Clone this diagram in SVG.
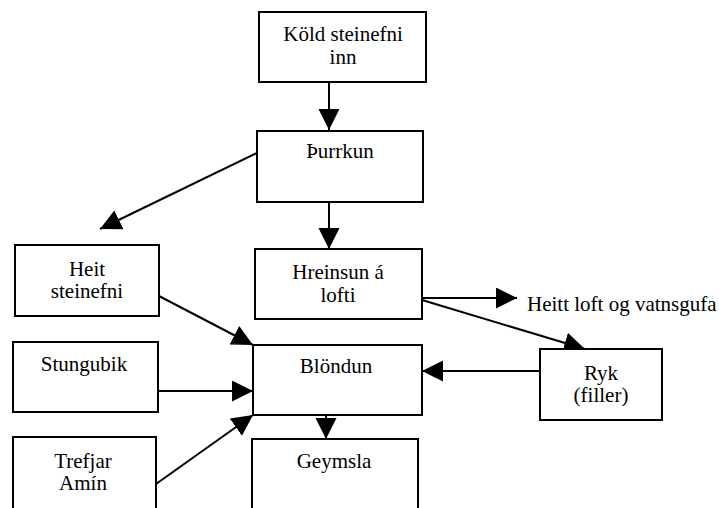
<svg xmlns="http://www.w3.org/2000/svg" width="719" height="508" viewBox="0 0 719 508">
<style>
.box{fill:#fff;stroke:#000;stroke-width:2}
.t{font-family:"Liberation Serif","Times New Roman",serif;font-size:21px;fill:#000;text-anchor:middle}
.l{font-family:"Liberation Serif","Times New Roman",serif;font-size:21px;fill:#000}
.c{stroke:#000;stroke-width:2;fill:none;marker-end:url(#ah)}
</style>
<defs>
<marker id="ah" markerUnits="userSpaceOnUse" markerWidth="22" markerHeight="22" viewBox="0 0 22 22" refX="21" refY="10.5" orient="auto">
<path d="M0,0 L21,10.5 L0,21 z" fill="#000"/>
</marker>
</defs>
<rect width="719" height="508" fill="#fff"/>
<g id="connectors">
<line class="c" x1="329" y1="82" x2="329" y2="130"/>
<line class="c" x1="257" y1="153" x2="100" y2="229"/>
<line class="c" x1="329" y1="202" x2="329" y2="249"/>
<line class="c" x1="422" y1="298" x2="517" y2="298"/>
<line class="c" x1="422" y1="300" x2="585" y2="349"/>
<line class="c" x1="540" y1="371" x2="422" y2="371"/>
<line class="c" x1="159" y1="296" x2="253" y2="345"/>
<line class="c" x1="158" y1="391" x2="253" y2="391"/>
<line class="c" x1="156" y1="484" x2="253" y2="415"/>
<line class="c" x1="326" y1="415" x2="326" y2="439"/>
</g>
<g id="n-kold">
<rect class="box" x="259" y="12" width="167" height="70"/>
<text class="t" x="343" y="41">Köld steinefni</text>
<text class="t" x="343" y="64">inn</text>
</g>
<g id="n-thurrkun">
<rect class="box" x="257" y="131" width="166" height="71"/>
<text class="t" x="340" y="158">Þurrkun</text>
</g>
<g id="n-heit">
<rect class="box" x="15" y="245" width="144" height="71"/>
<text class="t" x="87" y="276">Heit</text>
<text class="t" x="87" y="298">steinefni</text>
</g>
<g id="n-hreinsun">
<rect class="box" x="255" y="249" width="167" height="70"/>
<text class="t" x="338" y="279">Hreinsun á</text>
<text class="t" x="338" y="302">lofti</text>
</g>
<g id="n-heittloft">
<text class="l" x="527" y="311">Heitt loft og vatnsgufa</text>
</g>
<g id="n-ryk">
<rect class="box" x="540" y="349" width="122" height="71"/>
<text class="t" x="601" y="380">Ryk</text>
<text class="t" x="601" y="402">(filler)</text>
</g>
<g id="n-blondun">
<rect class="box" x="253" y="345" width="169" height="70"/>
<text class="t" x="336" y="373">Blöndun</text>
</g>
<g id="n-stungubik">
<rect class="box" x="13" y="342" width="145" height="70"/>
<text class="t" x="84" y="371">Stungubik</text>
</g>
<g id="n-trefjar">
<rect class="box" x="13" y="437" width="143" height="80"/>
<text class="t" x="83" y="468">Trefjar</text>
<text class="t" x="83" y="490">Amín</text>
</g>
<g id="n-geymsla">
<rect class="box" x="252" y="439" width="166" height="80"/>
<text class="t" x="334" y="468">Geymsla</text>
</g>
</svg>
